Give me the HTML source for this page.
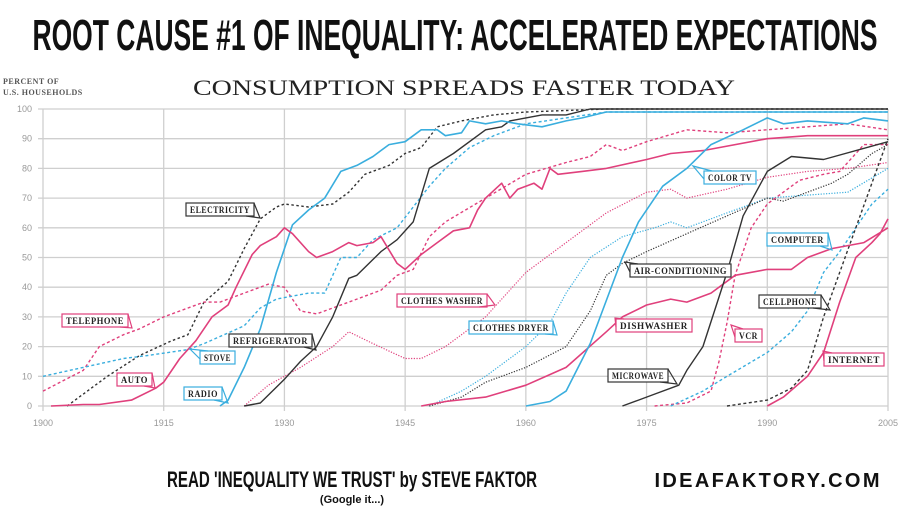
<!DOCTYPE html>
<html><head><meta charset="utf-8">
<style>
html,body{margin:0;padding:0;background:#fff;}
svg{display:block;}
.lbl{font-family:"Liberation Serif",serif;font-weight:bold;font-size:9px;letter-spacing:0.6px;}
.tick{font-family:"Liberation Sans",sans-serif;font-size:9px;fill:#999;}
</style></head>
<body>
<svg id="chart" width="910" height="512" viewBox="0 0 910 512">
  <text x="455" y="50" text-anchor="middle" textLength="845" lengthAdjust="spacingAndGlyphs" font-family="'Liberation Sans Narrow','Liberation Sans',sans-serif" font-weight="bold" font-size="44" fill="#111">ROOT CAUSE #1 OF INEQUALITY: ACCELERATED EXPECTATIONS</text>
  <text x="5" y="84" font-family="'Liberation Serif',serif" font-weight="bold" font-size="8" fill="#555" letter-spacing="0.5"><tspan x="3" y="84">PERCENT OF</tspan><tspan x="3" y="95">U.S. HOUSEHOLDS</tspan></text>
  <text x="464" y="95" text-anchor="middle" textLength="542" lengthAdjust="spacingAndGlyphs" font-family="'Liberation Serif',serif" font-size="22" fill="#222">CONSUMPTION SPREADS FASTER TODAY</text>
  <g id="grid"></g>
  <g id="series"></g>
  <g id="labels"></g>
  <text x="352" y="487" text-anchor="middle" textLength="370" lengthAdjust="spacingAndGlyphs" font-family="'Liberation Sans Narrow','Liberation Sans',sans-serif" font-weight="bold" font-size="22" fill="#111">READ 'INEQUALITY WE TRUST' by STEVE FAKTOR</text>
  <text x="352" y="503" text-anchor="middle" font-family="'Liberation Sans Narrow','Liberation Sans',sans-serif" font-weight="bold" font-size="11" fill="#111">(Google it...)</text>
  <text x="767" y="487" text-anchor="middle" textLength="225" lengthAdjust="spacing" font-family="'Liberation Sans',sans-serif" font-weight="bold" font-size="20" fill="#111">IDEAFAKTORY.COM</text>
</svg>
<script>
const xTicks = [1900,1915,1930,1945,1960,1975,1990,2005];
const yTicks = [0,10,20,30,40,50,60,70,80,90,100];

const electricityYears = [1903,1908,1912,1916,1918,1920,1923,1925,1927,1929,1930,1933,1936,1938,1940,1943,1945,1947,1949,1952,1956,1960,1965,1970,2005];
const electricityVals  = [0,10,17,22,24,35,42,53,63,67,68,67,68,72,78,81,85,87,94,96,98,99,99.5,100,100];
const telephoneYears = [1900,1905,1907,1910,1912,1915,1917,1920,1922,1925,1928,1930,1932,1934,1938,1942,1944,1946,1948,1950,1955,1960,1965,1968,1970,1972,1975,1980,1985,1990,1995,2000,2005];
const telephoneVals  = [5,12,20,24,26,30,32,35,35,38,41,40,32,31,35,39,44,46,57,62,70,78,82,84,88,86,89,93,92,93,94,95,93];
const autoYears = [1901,1905,1907,1911,1914,1915,1917,1919,1921,1923,1924,1926,1927,1929,1930,1931,1933,1934,1936,1938,1939,1941,1942,1944,1945,1947,1949,1951,1953,1954,1955,1957,1958,1959,1961,1962,1963,1964,1967,1970,1975,1978,1982,1990,1995,2005];
const autoVals  = [0,0.5,0.5,2,6,8,16,22,30,34,40,51,54,57,60,58,52,50,52,55,54,55,57,48,46,51,55,59,60,66,70,75,70,73,75,73,80,78,79,80,83,85,86,90,91,91];
const stoveYears = [1900,1905,1910,1913,1918,1920,1925,1927,1929,1933,1935,1937,1939,1941,1944,1946,1948,1950,1953,1956,1960,1965,1970,2005];
const stoveVals  = [10,13,16,17,19,21,27,33,36,38,38,50,50,56,60,67,74,80,87,91,95,97,99,99];
const radioYears = [1922,1923,1925,1927,1929,1931,1933,1935,1937,1939,1941,1943,1945,1947,1949,1950,1952,1953,1955,1957,1959,1962,1965,1967,1970,2005];
const radioVals  = [0,2,13,26,45,61,66,70,79,81,84,88,89,93,93,91,92,96,95,96,95,94,96,97,99,99];
const fridgeYears = [1925,1927,1930,1932,1934,1936,1938,1939,1942,1944,1946,1948,1951,1955,1957,1958,1962,1965,1968,2005];
const fridgeVals  = [0,1,9,15,20,30,43,44,52,56,62,80,85,93,94,96,98,98,100,100];
const washerYears = [1925,1928,1932,1936,1938,1941,1945,1947,1950,1955,1960,1965,1970,1975,1978,1980,1985,1990,1995,2000,2005];
const washerVals  = [0,7,13,20,25,21,16,16,20,30,45,55,65,72,73,70,73,77,79,80,82];
const dryerYears = [1948,1952,1955,1960,1963,1965,1968,1972,1976,1978,1980,1985,1990,1995,2000,2005];
const dryerVals  = [0,5,10,20,28,38,50,57,60,62,60,65,70,71,72,80];
const acYears = [1948,1952,1955,1960,1965,1968,1970,1972,1975,1980,1985,1990,1992,1995,1998,2000,2003,2005];
const acVals  = [0,3,8,13,20,32,44,48,52,58,64,70,69,72,75,78,85,88];
const dishYears = [1947,1950,1955,1960,1965,1970,1972,1975,1978,1980,1983,1986,1990,1993,1995,1998,2002,2005];
const dishVals  = [0,1.5,3,7,13,25,30,34,36,35,38,44,46,46,50,53,55,60];
const colorTvYears = [1960,1963,1965,1968,1972,1974,1977,1980,1983,1987,1990,1992,1995,2000,2002,2005];
const colorTvVals  = [0,1.5,5,21,50,62,74,80,88,93,97,95,96,95,97,96];
const microYears = [1972,1974,1976,1979,1980,1982,1985,1987,1990,1993,1997,2005];
const microVals  = [0,2,4,7,12,20,45,64,79,84,83,89];
const vcrYears = [1976,1980,1983,1984,1985,1986,1988,1990,1994,1997,1999,2002,2005];
const vcrVals  = [0,1,5,15,28,44,60,68,76,78,79,88,88];
const computerYears = [1978,1982,1985,1990,1993,1995,1997,1999,2001,2003,2005];
const computerVals  = [0,5,10,18,25,32,45,52,60,68,73];
const cellYears = [1985,1990,1993,1995,1997,1999,2001,2003,2005];
const cellVals  = [0,2,6,12,30,45,60,75,90];
const internetYears = [1990,1992,1995,1997,1999,2001,2003,2004,2005];
const internetVals  = [0,3,10,18,35,50,55,58,63];

const PINK="#e0407c", BLUE="#3aaede", BLACK="#333";
const x = yr => 43 + (yr-1900)*(845/105);
const y = v => 406 - v*2.97;
const NS="http://www.w3.org/2000/svg";
const grid=document.getElementById('grid');
yTicks.forEach(t=>{
  const l=document.createElementNS(NS,'line');
  l.setAttribute('x1',38);l.setAttribute('x2',x(2005));l.setAttribute('y1',y(t));l.setAttribute('y2',y(t));
  l.setAttribute('stroke','#cfcfcf');l.setAttribute('stroke-width','1.3');
  
  
  grid.appendChild(l);
  const tx=document.createElementNS(NS,'text');
  tx.setAttribute('x',32);tx.setAttribute('y',y(t)+3);tx.setAttribute('text-anchor','end');tx.setAttribute('class','tick');
  tx.textContent=t;
  
  
  grid.appendChild(tx);
});
xTicks.forEach(t=>{
  const l=document.createElementNS(NS,'line');
  l.setAttribute('x1',x(t));l.setAttribute('x2',x(t));l.setAttribute('y1',y(100));l.setAttribute('y2',411);
  l.setAttribute('stroke','#cfcfcf');l.setAttribute('stroke-width','1.3');
  
  
  grid.appendChild(l);
  const tx=document.createElementNS(NS,'text');
  tx.setAttribute('x',x(t));tx.setAttribute('y',426);tx.setAttribute('text-anchor','middle');tx.setAttribute('class','tick');
  tx.textContent=t;
  
  
  grid.appendChild(tx);
});
const sg=document.getElementById('series');
function addSeries(name,years,vals,color,dash,w){
  const p=document.createElementNS(NS,'polyline');
  p.setAttribute('points',years.map((yr,i)=>x(yr).toFixed(1)+','+y(vals[i]).toFixed(1)).join(' '));
  p.setAttribute('fill','none');p.setAttribute('stroke',color);p.setAttribute('stroke-width',w||1.4);
  p.setAttribute('stroke-linejoin','round');
  if(dash) p.setAttribute('stroke-dasharray',dash);
  
  
  sg.appendChild(p);
}
addSeries('electricity-line',electricityYears,electricityVals,BLACK,'2.5,2.5');
addSeries('telephone-line',telephoneYears,telephoneVals,PINK,'3,2.5');
addSeries('stove-line',stoveYears,stoveVals,BLUE,'3,2.5');
addSeries('clothes-washer-line',washerYears,washerVals,PINK,'1.2,1.5',1.2);
addSeries('clothes-dryer-line',dryerYears,dryerVals,BLUE,'1.2,1.5',1.2);
addSeries('air-conditioning-line',acYears,acVals,BLACK,'1.2,1.5',1.2);
addSeries('vcr-line',vcrYears,vcrVals,PINK,'3,2.5');
addSeries('computer-line',computerYears,computerVals,BLUE,'3,2.5');
addSeries('cellphone-line',cellYears,cellVals,BLACK,'3,2.5');
addSeries('refrigerator-line',fridgeYears,fridgeVals,BLACK);
addSeries('radio-line',radioYears,radioVals,BLUE,null,1.6);
addSeries('auto-line',autoYears,autoVals,PINK,null,1.6);
addSeries('dishwasher-line',dishYears,dishVals,PINK,null,1.6);
addSeries('color-tv-line',colorTvYears,colorTvVals,BLUE,null,1.6);
addSeries('microwave-line',microYears,microVals,BLACK);
addSeries('internet-line',internetYears,internetVals,PINK,null,1.6);

const lg=document.getElementById('labels');
function addLabel(name,text,bx,by,bw,color,tx,ty,side){
  const g=document.createElementNS(NS,'g');
  
  
  const r=document.createElementNS(NS,'rect');
  r.setAttribute('x',bx);r.setAttribute('y',by);r.setAttribute('width',bw);r.setAttribute('height',13);
  r.setAttribute('fill','#fff');r.setAttribute('stroke',color);r.setAttribute('stroke-width','1.2');
  g.appendChild(r);
  const t=document.createElementNS(NS,'text');
  t.setAttribute('x',bx+bw/2);t.setAttribute('y',by+10);t.setAttribute('text-anchor','middle');
  t.setAttribute('class','lbl');t.setAttribute('fill','#222');
  t.setAttribute('textLength',bw-8);t.setAttribute('lengthAdjust','spacingAndGlyphs');
  t.textContent=text;g.appendChild(t);
  const p=document.createElementNS(NS,'polyline');
  let pts;
  if(side==='r') pts=[[bx+bw-8,by+13],[tx,ty],[bx+bw,by]];
  else pts=[[bx+8,by+13],[tx,ty],[bx,by+13]];
  if(side==='lt') pts=[[bx+8,by],[tx,ty],[bx,by+8]];
  p.setAttribute('points',pts.map(a=>a.join(',')).join(' '));
  p.setAttribute('fill','none');p.setAttribute('stroke',color);p.setAttribute('stroke-width','1.2');
  g.appendChild(p);
  lg.appendChild(g);
}
addLabel('electricity-label','ELECTRICITY',186,203,68,BLACK,260,218,'r');
addLabel('telephone-label','TELEPHONE',62,314,66,PINK,132,328,'r');
addLabel('auto-label','AUTO',117,373,35,PINK,155,388,'r');
addLabel('radio-label','RADIO',184,387,38,BLUE,228,403,'r');
addLabel('stove-label','STOVE',200,351,35,BLUE,190,349,'lt');
addLabel('refrigerator-label','REFRIGERATOR',229,334,83,BLACK,316,350,'r');
addLabel('clothes-washer-label','CLOTHES WASHER',397,294,90,PINK,495,305,'r');
addLabel('clothes-dryer-label','CLOTHES DRYER',469,321,84,BLUE,557,335,'r');
addLabel('dishwasher-label','DISHWASHER',616,319,76,PINK,615,318,'lt');
addLabel('air-conditioning-label','AIR-CONDITIONING',630,264,101,BLACK,625,262,'lt');
addLabel('microwave-label','MICROWAVE',608,369,60,BLACK,677,384,'r');
addLabel('color-tv-label','COLOR TV',704,171,52,BLUE,693,166,'lt');
addLabel('vcr-label','VCR',735,329,27,PINK,731,325,'lt');
addLabel('computer-label','COMPUTER',767,233,61,BLUE,832,250,'r');
addLabel('cellphone-label','CELLPHONE',759,295,62,BLACK,830,310,'r');
addLabel('internet-label','INTERNET',824,353,60,PINK,823,351,'lt');
</script>
</body></html>
